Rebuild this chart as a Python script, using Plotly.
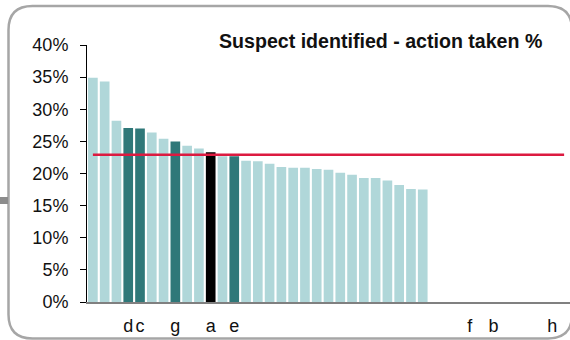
import plotly.graph_objects as go

# ---- data ----
labels = ["", "", "", "d", "c", "", "", "g", "", "", "a", "", "e", "", "", "",
          "", "", "", "", "", "", "", "", "", "", "", "", "", "", "", "",
          "f", "", "b", "", "", "", "", "h", ""]
values = [34.9, 34.3, 28.2, 27.1, 27.0, 26.4, 25.4, 25.0, 24.3, 23.9, 23.3,
          22.7, 22.7, 22.0, 21.9, 21.5, 21.0, 20.9, 20.9, 20.7, 20.6, 20.1,
          19.8, 19.3, 19.3, 18.9, 18.2, 17.6, 17.5,
          None, None, None, None, None, None, None, None, None, None, None, None]
average = 22.9
highlight_dark = ["d", "c", "g", "e"]
highlight_black = ["a"]
y_ticks = [0, 5, 10, 15, 20, 25, 30, 35, 40]
y_ticktext = ["0%", "5%", "10%", "15%", "20%", "25%", "30%", "35%", "40%"]
title = "Suspect identified - action taken %"

# ---- layout constants ----
W, H = 570, 340
ML, MR, MT, MB = 87, 0, 45, 38
PW, PH = W - ML - MR, H - MT - MB

LIGHT = "#b0d7d9"
DARK = "#2f7879"
BLACK = "#000000"
RED = "#dc1a40"
FONT = "Liberation Sans, Arial, sans-serif"

def px_x(p):
    return (p - ML) / PW

def px_y(p):
    return (H - MB - p) / PH

x = list(range(len(labels)))
colors = []
for lab in labels:
    if lab in highlight_black:
        colors.append(BLACK)
    elif lab in highlight_dark:
        colors.append(DARK)
    else:
        colors.append(LIGHT)

fig = go.Figure()
fig.add_trace(go.Bar(x=x, y=values, marker=dict(color=colors, line=dict(width=0)),
                     hoverinfo="skip"))
fig.add_trace(go.Scatter(x=[x[0], x[-1]], y=[average, average], mode="lines",
                         line=dict(color=RED, width=2.5), hoverinfo="skip"))

tickvals = [i for i, l in enumerate(labels) if l]
ticktext = [l for l in labels if l]

fig.update_layout(
    width=W, height=H,
    margin=dict(l=ML, r=MR, t=MT, b=MB, pad=0, autoexpand=False),
    paper_bgcolor="white", plot_bgcolor="white",
    showlegend=False, bargap=0.18,
    font=dict(family=FONT, size=18, color="#111111"),
)
fig.update_xaxes(range=[-0.5, len(labels) - 0.5], tickvals=tickvals, ticktext=ticktext,
                 showline=True, linecolor="#808080", linewidth=2, ticks="",
                 showgrid=False, zeroline=False, ticklabelstandoff=6,
                 tickfont=dict(size=18, color="#111111"), fixedrange=True)
fig.update_yaxes(range=[0, 40], tickvals=y_ticks, ticktext=y_ticktext,
                 showline=True, linecolor="#000000", linewidth=1,
                 ticks="outside", ticklen=6, tickcolor="#000000", tickwidth=1,
                 showgrid=False, zeroline=False, ticklabelstandoff=8,
                 tickfont=dict(size=18, color="#111111"), fixedrange=True)

# title
fig.add_annotation(text="<b>" + title + "</b>", xref="paper", yref="paper",
                   x=px_x(380), y=px_y(41), xanchor="center", yanchor="middle",
                   showarrow=False, font=dict(family=FONT, size=19.6, color="#111111"))

# rounded border
x0, y0, x1, y1, r = 8.5, 6, 572, 338.5, 24
pts = [
    ("M", [(x0 + r, y0)]),
    ("L", [(x1 - r, y0)]),
    ("Q", [(x1, y0), (x1, y0 + r)]),
    ("L", [(x1, y1 - r)]),
    ("Q", [(x1, y1), (x1 - r, y1)]),
    ("L", [(x0 + r, y1)]),
    ("Q", [(x0, y1), (x0, y1 - r)]),
    ("L", [(x0, y0 + r)]),
    ("Q", [(x0, y0), (x0 + r, y0)]),
]
path = " ".join(cmd + " " + " ".join(f"{px_x(a):.5f},{px_y(b):.5f}" for a, b in p) for cmd, p in pts) + " Z"
fig.add_shape(type="path", path=path, xref="paper", yref="paper",
              line=dict(color="#a6a6a6", width=2.5), fillcolor="rgba(0,0,0,0)", layer="above")
# small grey marker on the left edge
fig.add_shape(type="rect", xref="paper", yref="paper",
              x0=px_x(0), x1=px_x(8), y0=px_y(204), y1=px_y(197),
              line=dict(width=0), fillcolor="#8c8c8c")

fig.write_html("out.html", config={"displayModeBar": False},
               post_script="document.body.style.margin='0px';")
